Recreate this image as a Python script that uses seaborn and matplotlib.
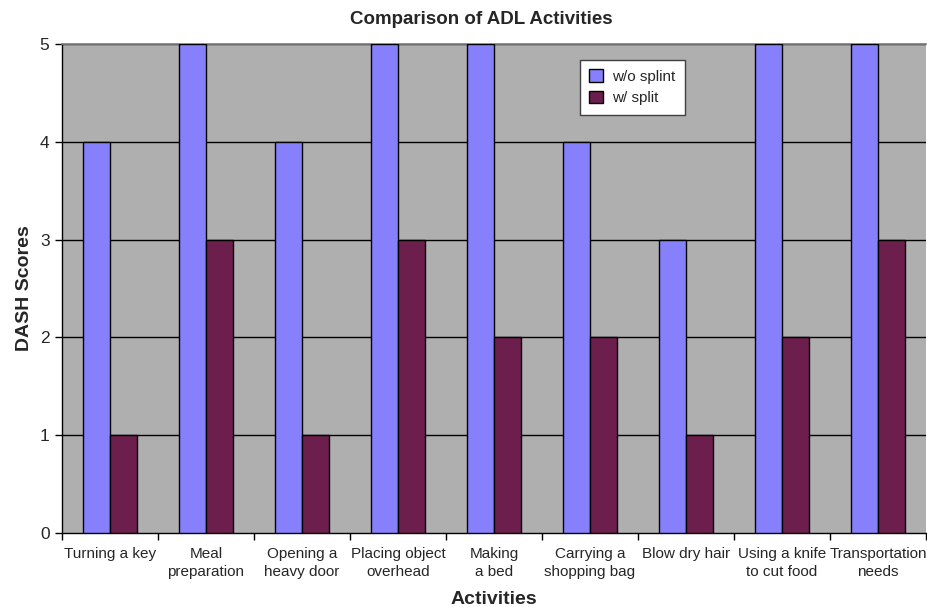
import matplotlib
matplotlib.use("Agg")
import matplotlib.pyplot as plt
import seaborn as sns
import pandas as pd
from matplotlib.patches import Patch

activities = [
    "Turning a key", "Meal\npreparation", "Opening a\nheavy door",
    "Placing object\noverhead", "Making\na bed", "Carrying a\nshopping bag",
    "Blow dry hair", "Using a knife\nto cut food", "Transportation\nneeds",
]
without_splint = [4, 5, 4, 5, 5, 4, 3, 5, 5]
with_splint = [1, 3, 1, 3, 2, 2, 1, 2, 3]
series_names = ["w/o splint", "w/ split"]
series_colors = ["#8780FC", "#6C1F4C"]
y_ticks = [0, 1, 2, 3, 4, 5]

df = pd.DataFrame({
    "Activity": activities * 2,
    "Score": without_splint + with_splint,
    "Series": [series_names[0]] * len(activities) + [series_names[1]] * len(activities),
})

sns.set_theme(style="white")
plt.rcParams["font.family"] = ["Liberation Sans", "DejaVu Sans"]

fig = plt.figure(figsize=(9.27, 6.07), dpi=100)
ax = fig.add_axes([0.0669, 0.1219, 0.9321, 0.8056])
ax.set_facecolor("#AFAFAF")

sns.barplot(
    data=df, x="Activity", y="Score", hue="Series",
    palette=series_colors, width=0.5625, dodge=True,
    edgecolor="black", linewidth=1.0, saturation=1, ax=ax,
    legend=False, zorder=3,
)

ax.set_ylim(0, 5)
ax.set_xlim(-0.5, len(activities) - 0.5)
ax.set_yticks(y_ticks)
ax.set_yticklabels([str(t) for t in y_ticks], fontsize=12.5)
for t in y_ticks[1:]:
    ax.axhline(t, color="black", lw=1.0, zorder=1)

# Category labels centred, tick marks on category boundaries
ax.set_xticks(range(len(activities)))
ax.set_xticklabels(activities, fontsize=11, linespacing=1.35)
ax.tick_params(axis="x", which="major", length=0, pad=10)
ax.set_xticks([i - 0.5 for i in range(len(activities) + 1)], minor=True)
ax.tick_params(axis="x", which="minor", length=5, width=1, color="black", direction="out", bottom=True)
ax.tick_params(axis="y", length=5, width=1, color="black", direction="out", left=True, pad=4)

for side in ["left", "bottom"]:
    ax.spines[side].set_color("black")
    ax.spines[side].set_linewidth(1.0)
ax.spines["top"].set_color("#808080")
ax.spines["right"].set_visible(False)

fig.text(481 / 927, 1 - 20 / 607, "Comparison of ADL Activities", fontsize=13.5,
         fontweight="bold", ha="center", va="center")
ax.set_xlabel("Activities", fontsize=14, fontweight="bold", labelpad=9)
ax.set_ylabel("DASH Scores", fontsize=14, fontweight="bold", labelpad=5)

handles = [Patch(facecolor=c, edgecolor="black", label=n) for c, n in zip(series_colors, series_names)]
leg = ax.legend(
    handles=handles, loc="upper left", bbox_to_anchor=(0.5995, 0.967),
    borderaxespad=0, fontsize=11, frameon=True, fancybox=False,
    handlelength=0.9, handleheight=0.9, handletextpad=0.6,
    borderpad=0.6, labelspacing=0.45,
)
leg.get_frame().set_edgecolor("#404040")
leg.get_frame().set_linewidth(1.0)
leg.get_frame().set_facecolor("white")
leg.get_frame().set_alpha(1)
leg.set_zorder(5)

fig.savefig("out.png", dpi=100, facecolor="white")
